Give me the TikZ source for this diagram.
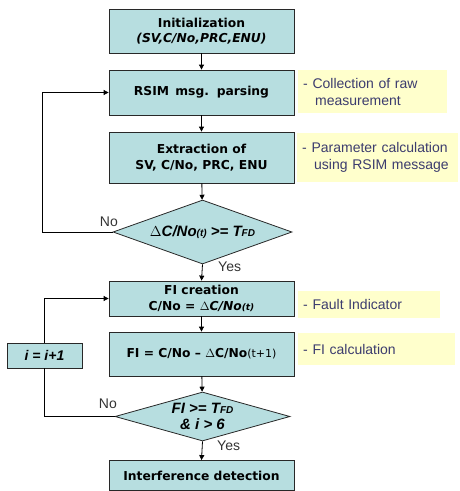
\documentclass[tikz,border=0pt]{standalone}
\usepackage{fontspec}
\setmainfont{DejaVu Sans}
\newfontfamily\notefont{Liberation Sans}
\usetikzlibrary{shapes.geometric,arrows.meta}
\definecolor{boxfill}{RGB}{183,222,224}
\definecolor{notefill}{RGB}{255,255,204}
\definecolor{notetext}{RGB}{60,60,110}
\definecolor{edge}{RGB}{40,40,40}
\tikzset{
  procbox/.style={draw=edge, line width=0.8pt, fill=boxfill, minimum width=185pt,
    inner sep=0pt, align=center, font=\bfseries\fontsize{12.3}{15.5}\selectfont},
  decision/.style={diamond, draw=edge, line width=0.8pt, fill=boxfill, inner sep=0pt},
  dectext/.style={inner sep=0pt, align=center,
    font=\notefont\bfseries\itshape\fontsize{15}{16}\selectfont},
  notebox/.style={fill=notefill, inner xsep=5pt, inner ysep=0pt, anchor=north west,
    align=left, text=notetext, font=\notefont\fontsize{14}{17}\selectfont},
  lbl/.style={font=\notefont\fontsize{14}{16}\selectfont, text=black!80, inner sep=0pt},
  flow/.style={line width=0.8pt, draw=black, -{Triangle[length=5pt,width=5pt]}},
  plain/.style={line width=0.8pt, draw=black}
}
\newcommand{\sm}[1]{{\fontsize{10}{11}\selectfont #1}}
\newcommand{\smb}[1]{{\fontsize{9}{10}\selectfont #1}}
\begin{document}
\begin{tikzpicture}[x=1pt,y=-1pt]
\useasboundingbox (0,0) rectangle (459,491);

% main column of steps
\node[procbox, minimum height=44pt] (init) at (201.5,31)
  {Initialization\\\textit{(SV,C/No,PRC,ENU)}};
\node[procbox, minimum height=45pt] (rsim) at (201.5,92.5) {RSIM\, msg.\, parsing};
\node[procbox, minimum height=51pt] (extr) at (201.5,157.5) {Extraction of\\SV, C/No, PRC, ENU};
\node[decision, minimum width=179pt, minimum height=64pt] (d1) at (202.5,232) {};
\node[dectext] (d1t) at (d1.center) {$\Delta$C/No\sm{(t)} >= T\sm{FD}};
\node[procbox, minimum height=35pt] (fic) at (201.5,298.5)
  {FI creation\\C/No = $\Delta$\textit{C/No\smb{(t)}}};
\node[procbox, minimum height=44pt] (fical) at (201.5,354)
  {FI = C/No -- $\Delta$C/No{\mdseries\fontsize{11}{12}\selectfont(t+1)}};
\node[decision, minimum width=175pt, minimum height=49pt] (d2) at (202.5,416.5) {};
\node[dectext] (d2t) at (d2.center) {FI >= T\sm{FD}\\\& i > 6};
\node[procbox, minimum height=30pt] (intf) at (201.5,475.5) {Interference detection};

% counter box on the left
\node[procbox, minimum width=75pt, minimum height=25pt,
  font=\notefont\bfseries\itshape\fontsize{14}{15}\selectfont] (inc) at (44.5,355.5) {i = i+1};

% side notes
\node[notebox, text width=139pt, minimum height=43pt] (n1) at (298,70)
  {- Collection of raw\\\hspace*{12pt}measurement};
\node[notebox, text width=151pt, minimum height=49pt] (n2) at (297,133)
  {- Parameter calculation\\\hspace*{12pt}using RSIM message};
\node[notebox, text width=132pt, minimum height=27pt] (n3) at (298,291)
  {- Fault Indicator};
\node[notebox, text width=147pt, minimum height=32pt] (n4) at (298,333)
  {- FI calculation};

% straight flow
\draw[flow] (init) -- (rsim);
\draw[flow] (rsim) -- (extr);
\draw[flow] (extr) -- (d1);
\draw[flow] (d1.south) -- (fic.north);
\draw[flow] (fic) -- (fical);
\draw[flow] (fical) -- (d2);
\draw[flow] (d2.south) -- (intf.north);

% loops
\coordinate (c1) at (42,232);
\coordinate (c2) at (42,92.5);
\draw[flow] (d1.west) -- (c1) -- (c2) -- (rsim.west);
\coordinate (c3) at (44.5,416.5);
\coordinate (c4) at (44.5,298.5);
\draw[plain] (d2.west) -- (c3) -- (inc.south);
\draw[flow] (inc.north) -- (c4) -- (fic.west);

% branch labels
\node[lbl, anchor=south east] (no1) at (118,227) {No};
\node[lbl, anchor=north west] (yes1) at (218,262) {Yes};
\node[lbl, anchor=south east] (no2) at (117,409) {No};
\node[lbl, anchor=north west] (yes2) at (217,441) {Yes};
\end{tikzpicture}
\end{document}
